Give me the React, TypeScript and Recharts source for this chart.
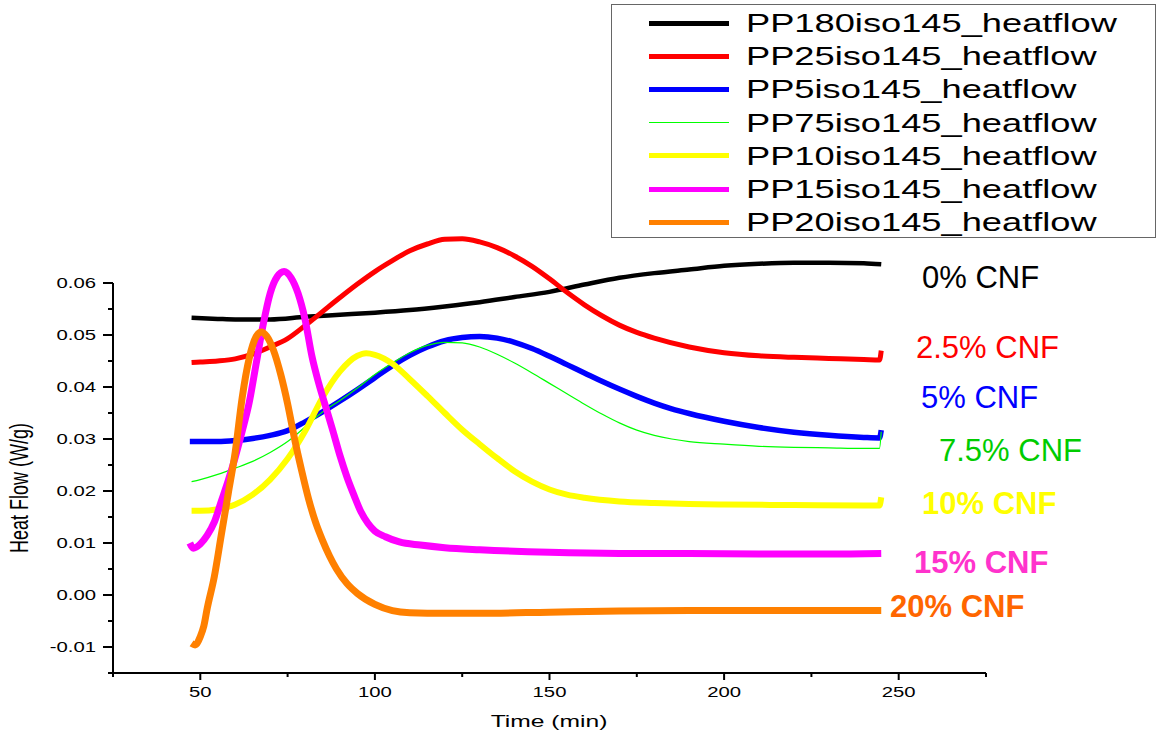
import React from 'react';
import { LineChart, Line, XAxis, YAxis, ReferenceLine } from 'recharts';

// time (min) / heat flow (W/g)
const cnf0Time = [47.5, 55, 60, 70, 80, 90, 100, 110, 120, 130, 140, 150, 160, 170, 180, 190, 200, 210, 220, 230, 240, 245];
const cnf0Flow = [0.0533, 0.0531, 0.053, 0.053, 0.0535, 0.0539, 0.0543, 0.0548, 0.0555, 0.0563, 0.0573, 0.0583, 0.0597, 0.061, 0.0619, 0.0626, 0.0633, 0.0637, 0.0639, 0.0639, 0.0638, 0.0636];

const cnf25Time = [47.5, 50, 55, 60, 65, 70, 75, 80, 85, 90, 95, 100, 105, 110, 115, 120, 125, 130, 135, 140, 145, 150, 155, 160, 165, 170, 175, 180, 190, 200, 210, 220, 230, 240, 244.5, 245];
const cnf25Flow = [0.0447, 0.0448, 0.045, 0.0454, 0.0463, 0.0477, 0.0493, 0.0518, 0.0545, 0.0572, 0.0598, 0.0622, 0.0643, 0.0662, 0.0675, 0.0684, 0.0685, 0.0679, 0.0668, 0.0652, 0.0632, 0.0608, 0.0582, 0.0558, 0.0537, 0.0519, 0.0505, 0.0494, 0.0477, 0.0466, 0.046, 0.0457, 0.0455, 0.0453, 0.0452, 0.047];

const cnf5Time = [47, 50, 55, 60, 65, 70, 75, 80, 85, 90, 95, 100, 105, 110, 115, 120, 125, 130, 135, 140, 145, 150, 155, 160, 165, 170, 175, 180, 185, 190, 200, 210, 220, 230, 240, 244.5, 245];
const cnf5Flow = [0.0295, 0.0295, 0.0295, 0.0297, 0.0301, 0.0307, 0.0316, 0.0333, 0.0352, 0.0373, 0.0395, 0.0418, 0.0441, 0.0461, 0.0477, 0.0489, 0.0495, 0.0497, 0.0494, 0.0486, 0.0474, 0.0459, 0.0443, 0.0427, 0.0411, 0.0396, 0.0382, 0.0369, 0.0358, 0.0349, 0.0334, 0.0322, 0.0313, 0.0307, 0.0303, 0.0302, 0.0317];

const cnf75Time = [47.5, 50, 55, 60, 65, 70, 75, 80, 85, 90, 95, 100, 105, 110, 115, 120, 125, 130, 135, 140, 145, 150, 155, 160, 165, 170, 175, 180, 185, 190, 200, 210, 220, 230, 240, 244.5, 245];
const cnf75Flow = [0.0218, 0.0222, 0.0232, 0.0244, 0.0257, 0.0274, 0.0295, 0.0323, 0.0352, 0.0374, 0.0398, 0.0424, 0.0446, 0.0466, 0.048, 0.0486, 0.0485, 0.0477, 0.0463, 0.0446, 0.0427, 0.0407, 0.0387, 0.0367, 0.0348, 0.0331, 0.0317, 0.0307, 0.03, 0.0295, 0.029, 0.0286, 0.0284, 0.0283, 0.0282, 0.0282, 0.0314];

const cnf10Time = [47.5, 50, 55, 60, 65, 70, 75, 80, 85, 90, 95, 97.5, 100, 105, 110, 115, 120, 125, 130, 135, 140, 145, 150, 155, 160, 170, 180, 190, 200, 220, 240, 244.5, 245];
const cnf10Flow = [0.0162, 0.0162, 0.0165, 0.0174, 0.0193, 0.0222, 0.0262, 0.0315, 0.038, 0.043, 0.046, 0.0465, 0.0462, 0.0445, 0.0415, 0.0383, 0.035, 0.0318, 0.029, 0.0263, 0.0238, 0.0218, 0.0203, 0.0193, 0.0187, 0.018, 0.0177, 0.0175, 0.0174, 0.0173, 0.0172, 0.0172, 0.0188];

const cnf15Time = [47, 48, 50, 52, 54, 56, 58, 60, 62, 64, 66, 68, 70, 72, 74, 76, 78, 80, 82, 84, 86, 88, 90, 92, 94, 96, 98, 100, 103, 107, 113, 120, 130, 150, 170, 190, 210, 230, 245];
const cnf15Flow = [0.01, 0.009, 0.0098, 0.0115, 0.014, 0.018, 0.022, 0.0265, 0.0315, 0.037, 0.0445, 0.052, 0.058, 0.0612, 0.0622, 0.061, 0.058, 0.053, 0.0458, 0.0405, 0.036, 0.0315, 0.0268, 0.0227, 0.0192, 0.016, 0.0138, 0.0123, 0.0112, 0.0102, 0.0096, 0.0091, 0.0087, 0.0082, 0.008, 0.008, 0.0079, 0.0079, 0.008];

const cnf20Time = [47.5, 48.5, 50, 51, 52, 54, 56, 58, 60, 62, 64, 66, 67.5, 69, 71, 73, 75, 77, 79, 81, 83, 85, 87, 89, 92, 95, 100, 105, 110, 120, 130, 150, 170, 190, 210, 230, 245];
const cnf20Flow = [-0.0093, -0.0096, -0.008, -0.006, -0.0025, 0.0035, 0.0115, 0.0195, 0.0275, 0.038, 0.0455, 0.0497, 0.0506, 0.0498, 0.047, 0.0425, 0.0368, 0.03, 0.024, 0.0185, 0.014, 0.0105, 0.0075, 0.005, 0.0022, 0.0003, -0.0018, -0.003, -0.0034, -0.0035, -0.0035, -0.0033, -0.0031, -0.003, -0.003, -0.003, -0.003];

const xTicks = [25, 50, 75, 100, 125, 150, 175, 200, 225, 250, 275];
const xMajor = [50, 100, 150, 200, 250];
const yTicks = [-0.015, -0.01, -0.005, 0, 0.005, 0.01, 0.015, 0.02, 0.025, 0.03, 0.035, 0.04, 0.045, 0.05, 0.055, 0.06];

const FONT = '"Liberation Sans", Arial, sans-serif';
const STRETCH = 1.45;

const toPoints = (t: number[], v: number[]) => t.map((time, i) => ({ time, flow: v[i] }));

const series = [
  { name: 'PP180iso145_heatflow', color: '#000000', width: 4.5, data: toPoints(cnf0Time, cnf0Flow) },
  { name: 'PP25iso145_heatflow', color: '#ff0000', width: 5, data: toPoints(cnf25Time, cnf25Flow) },
  { name: 'PP5iso145_heatflow', color: '#0000ff', width: 5.5, data: toPoints(cnf5Time, cnf5Flow) },
  { name: 'PP75iso145_heatflow', color: '#00ff00', width: 1.2, data: toPoints(cnf75Time, cnf75Flow) },
  { name: 'PP10iso145_heatflow', color: '#ffff00', width: 6, data: toPoints(cnf10Time, cnf10Flow) },
  { name: 'PP15iso145_heatflow', color: '#ff00ff', width: 7, data: toPoints(cnf15Time, cnf15Flow) },
  { name: 'PP20iso145_heatflow', color: '#ff8000', width: 7, data: toPoints(cnf20Time, cnf20Flow) },
];

const endLabels = [
  { text: '0% CNF', color: '#000000', x: 922, y: 288, bold: false },
  { text: '2.5% CNF', color: '#ff0000', x: 916, y: 358, bold: false },
  { text: '5% CNF', color: '#0000ff', x: 921, y: 408, bold: false },
  { text: '7.5% CNF', color: '#00cc00', x: 939, y: 461, bold: false },
  { text: '10% CNF', color: '#ffff00', x: 922, y: 514, bold: true },
  { text: '15% CNF', color: '#ff33cc', x: 914, y: 573, bold: true },
  { text: '20% CNF', color: '#ff6600', x: 890, y: 617, bold: true },
];

const XTick = (props: any) => {
  const { x, y, payload } = props;
  const major = xMajor.includes(payload.value);
  return (
    <g>
      <line x1={x} x2={x} y1={y} y2={y + (major ? 7 : 4)} stroke="#000" strokeWidth={2} />
      {major && (
        <text transform={`translate(${x},${y + 24}) scale(${STRETCH},1)`} textAnchor="middle" fontSize={14} fontFamily={FONT} fill="#000">
          {payload.value}
        </text>
      )}
    </g>
  );
};

const YTick = (props: any) => {
  const { x, y, payload } = props;
  const v = payload.value as number;
  const major = Math.abs(v * 100 - Math.round(v * 100)) < 1e-6;
  return (
    <g>
      <line x1={x - (major ? 10 : 5)} x2={x} y1={y} y2={y} stroke="#000" strokeWidth={2} />
      {major && (
        <text transform={`translate(${x - 17},${y + 5}) scale(${STRETCH},1)`} textAnchor="end" fontSize={14} fontFamily={FONT} fill="#000">
          {v.toFixed(2)}
        </text>
      )}
    </g>
  );
};

const timeTitle = () => (
  <text transform={`translate(549,727) scale(${STRETCH},1)`} textAnchor="middle" fontSize={17} fontFamily={FONT} fill="#000">
    Time (min)
  </text>
);

const flowTitle = () => (
  <text transform={`translate(28,488) scale(${STRETCH},1) rotate(-90)`} textAnchor="middle" fontSize={18} fontFamily={FONT} fill="#000">
    Heat Flow (W/g)
  </text>
);

export default function App() {
  return (
    <div style={{ position: 'absolute', left: 0, top: 0, width: 1159, height: 736, background: '#fff', fontFamily: FONT }}>
      <LineChart width={1159} height={736} margin={{ top: 231, right: 173, bottom: 0, left: 0 }}>
        <XAxis
          dataKey="time"
          type="number"
          domain={[25, 275]}
          ticks={xTicks}
          interval={0}
          height={63}
          axisLine={{ stroke: '#000', strokeWidth: 2 }}
          tickLine={false}
          tickSize={0}
          tickMargin={0}
          tick={<XTick />}
          label={timeTitle}
        />
        <YAxis
          type="number"
          domain={[-0.015, 0.07]}
          ticks={yTicks}
          interval={0}
          width={113}
          axisLine={false}
          tickLine={false}
          tickSize={0}
          tickMargin={0}
          tick={<YTick />}
          label={flowTitle}
        />
        <ReferenceLine
          segment={[{ x: 25, y: -0.015 }, { x: 25, y: 0.06 }]}
          stroke="#000"
          strokeWidth={2}
          ifOverflow="visible"
        />
        {series.map((s) => (
          <Line
            key={s.name}
            data={s.data}
            dataKey="flow"
            name={s.name}
            type="monotone"
            stroke={s.color}
            strokeWidth={s.width}
            dot={false}
            activeDot={false}
            isAnimationActive={false}
          />
        ))}
      </LineChart>

      <svg width={1159} height={736} style={{ position: 'absolute', left: 0, top: 0, pointerEvents: 'none' }}>
        {endLabels.map((l) => (
          <text key={l.text} x={l.x} y={l.y} fill={l.color} fontSize={31} fontWeight={l.bold ? 'bold' : 'normal'} fontFamily={FONT}>
            {l.text}
          </text>
        ))}
      </svg>

      <div
        style={{
          position: 'absolute',
          left: 611,
          top: 4,
          width: 545,
          height: 234,
          border: '1.5px solid #666',
          background: '#fff',
          boxSizing: 'border-box',
        }}
      >
        {series.map((s, i) => {
          const cy = 18 + i * 33.2;
          return (
            <React.Fragment key={s.name}>
              <div
                style={{
                  position: 'absolute',
                  left: 37,
                  top: cy - (s.width > 2 ? 2.5 : 0.5),
                  width: 80,
                  height: s.width > 2 ? 5 : 1,
                  background: s.color,
                }}
              />
              <div
                style={{
                  position: 'absolute',
                  left: 134,
                  top: cy - 15,
                  fontSize: 25,
                  lineHeight: '30px',
                  whiteSpace: 'nowrap',
                  color: '#000',
                  transform: `scaleX(${STRETCH})`,
                  transformOrigin: 'left center',
                }}
              >
                {s.name}
              </div>
            </React.Fragment>
          );
        })}
      </div>
    </div>
  );
}
